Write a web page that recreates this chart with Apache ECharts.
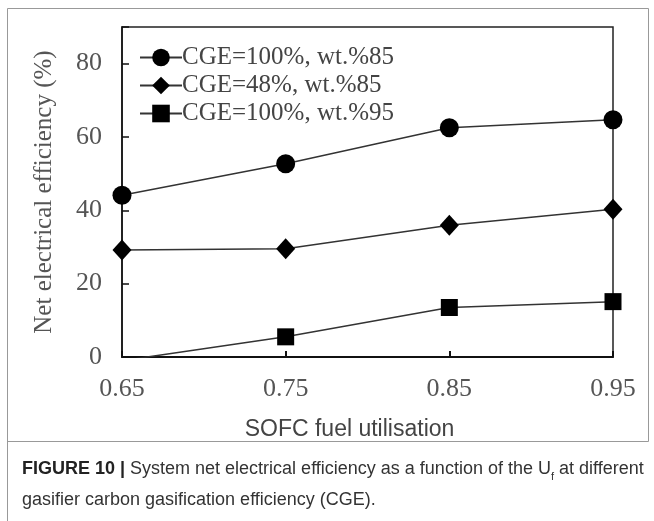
<!DOCTYPE html>
<html>
<head>
<meta charset="utf-8">
<style>
  html, body { margin: 0; padding: 0; background: #fff; }
  #chart { width: 654px; height: 521px; }
</style>
<script src="https://cdn.jsdelivr.net/npm/echarts@6/dist/echarts.min.js"></script>
</head>
<body>
<div id="chart"></div>
<script>
// ---- data ----
const xValues = [0.65, 0.75, 0.85, 0.95];
const xTickLabels = ['0.65', '0.75', '0.85', '0.95'];
const yTickLabels = ['0', '20', '40', '60', '80'];
const seriesNames = ['CGE=100%, wt.%85', 'CGE=48%, wt.%85', 'CGE=100%, wt.%95'];
const cge100wt85 = [44.1, 52.7, 62.5, 64.7];
const cge48wt85 = [29.2, 29.5, 35.9, 40.3];
const cge100wt95 = [-1.0, 5.5, 13.5, 15.1];
const xAxisTitle = 'SOFC fuel utilisation';
const yAxisTitle = 'Net electrical efficiency (%)';

const serif = "'Liberation Serif', 'Times New Roman', serif";
const sans = "'Liberation Sans', Arial, sans-serif";

function pairs(ys) { return xValues.map((x, i) => [x, ys[i]]); }

const chart = echarts.init(document.getElementById('chart'), null, { renderer: 'canvas' });

const lineStyle = { color: '#333', width: 1.5 };
const itemStyle = { color: '#000' };

const option = {
  animation: false,
  backgroundColor: '#fff',
  grid: {
    left: 122, right: 41, top: 27, bottom: 164,
    show: true, borderColor: '#222', borderWidth: 1.5, backgroundColor: 'transparent'
  },
  legend: {
    orient: 'vertical',
    left: 134, top: 40,
    itemWidth: 42, itemHeight: 22, itemGap: 3,
    textStyle: { fontFamily: serif, fontSize: 25, color: '#444', padding: [0, 0, 0, -5] },
    data: seriesNames
  },
  xAxis: {
    type: 'value', min: 0.65, max: 0.95, interval: 0.1,
    axisLine: { lineStyle: { color: '#111', width: 2 } },
    axisTick: { inside: true, length: 6, lineStyle: { color: '#111', width: 2 } },
    splitLine: { show: false },
    axisLabel: {
      margin: 19, fontFamily: serif, fontSize: 26, color: '#555',
      formatter: v => { const i = xValues.findIndex(x => Math.abs(x - v) < 1e-6); return i >= 0 ? xTickLabels[i] : ''; }
    },
    name: xAxisTitle, nameLocation: 'middle', nameGap: 61,
    nameTextStyle: { fontFamily: sans, fontSize: 23, color: '#444', padding: [0, 36, 0, 0] }
  },
  yAxis: {
    type: 'value', min: 0, max: 90, interval: 20,
    axisLine: { show: true, lineStyle: { color: '#111', width: 1.5 } },
    axisTick: { show: true, inside: true, length: 7, lineStyle: { color: '#111', width: 1.5 } },
    splitLine: { show: false },
    axisLabel: {
      margin: 20, fontFamily: serif, fontSize: 26, color: '#555',
      formatter: v => { const s = String(Math.round(v)); return yTickLabels.includes(s) && Math.abs(v - Math.round(v)) < 1e-6 ? s : ''; }
    },
    name: yAxisTitle, nameLocation: 'middle', nameGap: 65,
    nameTextStyle: { fontFamily: serif, fontSize: 25, color: '#555' }
  },
  series: [
    { name: seriesNames[0], type: 'line', data: pairs(cge100wt85), symbol: 'circle', symbolSize: 19,
      lineStyle, itemStyle, clip: true },
    { name: seriesNames[1], type: 'line', data: pairs(cge48wt85), symbol: 'diamond', symbolSize: [19, 21],
      lineStyle, itemStyle, clip: true },
    { name: seriesNames[2], type: 'line', data: pairs(cge100wt95), symbol: 'rect', symbolSize: 17,
      lineStyle, itemStyle, clip: true }
  ],
  graphic: [
    { type: 'rect', shape: { x: 7.5, y: 8.5, width: 641, height: 433 }, style: { fill: 'none', stroke: '#999', lineWidth: 1 }, silent: true },
    { type: 'line', shape: { x1: 7.5, y1: 441, x2: 7.5, y2: 521 }, style: { stroke: '#999', lineWidth: 1 }, silent: true },
    {
      type: 'text', left: 22, top: 454,
      style: {
        text: '{b|FIGURE 10 |} System net electrical efficiency as a function of the U{s|f} at different\ngasifier carbon gasification efficiency (CGE).',
        fontFamily: sans,
        fontSize: 18, fill: '#333', lineHeight: 31,
        rich: {
          b: { fontFamily: sans, fontWeight: 'bold', fontSize: 18, fill: '#222', lineHeight: 31 },
          s: { fontFamily: sans, fontSize: 11, fill: '#333', lineHeight: 31, verticalAlign: 'bottom', padding: [0, 0, 3, 0] }
        }
      }
    }
  ]
};
chart.setOption(option);
</script>
</body>
</html>
